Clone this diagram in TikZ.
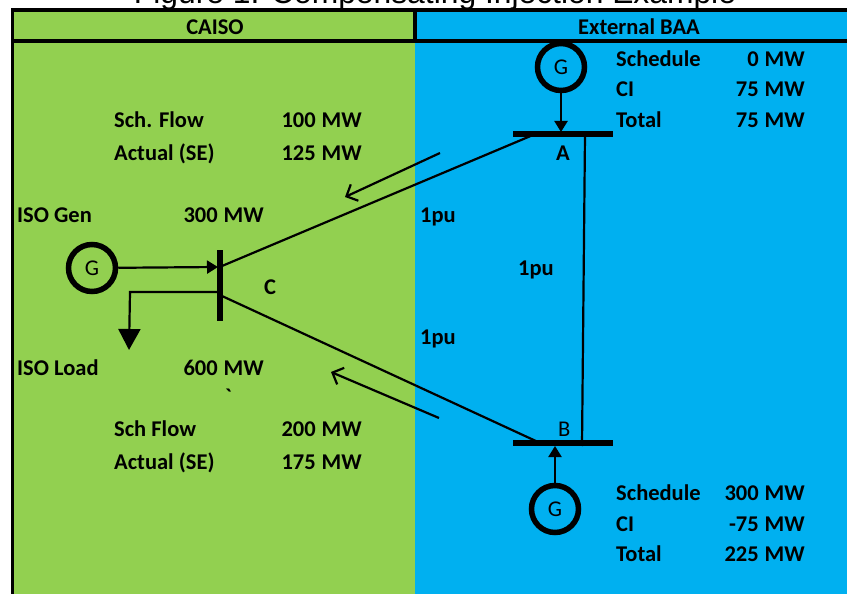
\documentclass[tikz,border=0pt]{standalone}
\usepackage{fontspec}
\setmainfont{Carlito}
\newfontfamily\titlefont{Liberation Sans}
\newfontfamily\rawfont{Carlito}
\usetikzlibrary{arrows.meta}
\definecolor{caisogreen}{HTML}{92D050}
\definecolor{baablue}{HTML}{00B0F0}
\tikzset{
  x=1pt,y=-1pt,
  lab/.style={inner sep=0pt,anchor=base west,yshift=-0.8pt,font=\fontsize{22.5}{22.5}\selectfont\bfseries},
  val/.style={inner sep=0pt,anchor=base east,yshift=-0.8pt,font=\fontsize{22.5}{22.5}\selectfont\bfseries},
  head/.style={inner sep=0pt,anchor=base,yshift=-0.8pt,font=\fontsize{22.5}{22.5}\selectfont\bfseries},
  plain/.style={inner sep=0pt,anchor=base west,yshift=-0.8pt,font=\fontsize{22.5}{22.5}\selectfont},
  gen/.style={circle,draw=black,line width=5.5pt,minimum size=47pt,inner sep=0pt,font=\fontsize{22.5}{22.5}\selectfont},
  hbus/.style={fill=black,minimum width=100pt,minimum height=5.5pt,inner sep=0pt},
  vbus/.style={fill=black,minimum width=5.5pt,minimum height=71pt,inner sep=0pt},
  wire/.style={line width=2.2pt,draw=black},
  feed/.style={line width=2.2pt,draw=black,-{Triangle[length=11pt,width=13pt]}},
  loadfeed/.style={line width=2.2pt,draw=black,-{Triangle[length=21pt,width=22pt]}},
  flow/.style={line width=2.2pt,draw=black,-{Straight Barb[length=9pt,width=18pt,line width=2.2pt]}},
  frame/.style={line width=3.5pt,draw=black}
}
\newcommand{\mw}[1]{#1\hspace{6pt}MW}
\begin{document}
\begin{tikzpicture}
\useasboundingbox (0,0) rectangle (847,594);
\clip (0,0) rectangle (847,594);
\fill[caisogreen] (13,10) rectangle (415,594);
\fill[baablue] (415,10) rectangle (847,594);
\node[inner sep=0pt,anchor=base,font=\titlefont\fontsize{31.8}{31.8}\selectfont] (title) at (435,3.5) {Figure 1: Compensating Injection Example};
\coordinate (fTL) at (12.5,10);
\coordinate (fTR) at (847,10);
\coordinate (fBL) at (12.5,594);
\coordinate (hL) at (12.5,41);
\coordinate (hR) at (847,41);
\coordinate (dT) at (415,10);
\coordinate (dB) at (415,41);
\draw[frame] (fBL) -- (fTL) -- (fTR);
\draw[frame] (hL) -- (hR);
\draw[frame] (dT) -- (dB);
\node[head] (caiso) at (215,34) {CAISO};
\node[head] (ext) at (639,34) {External BAA};
% buses
\node[hbus] (busA) at (563,134) {};
\node[hbus] (busB) at (563,443) {};
\node[vbus] (busC) at (220,285.5) {};
\node[gen] (genA) at (561,67) {G};
\node[gen] (genB) at (555,509) {G};
\node[gen] (genC) at (92,268) {G};
% connector ends
\coordinate (cA) at (222,266);
\coordinate (aC) at (533,135);
\coordinate (cB) at (222,296);
\coordinate (bC) at (538,442);
\coordinate (aB) at (585,135);
\coordinate (bA) at (582,446);
\coordinate (fa1) at (440,153);
\coordinate (fa2) at (345,197);
\coordinate (fb1) at (439,418);
\coordinate (fb2) at (331,372);
\coordinate (lc) at (218,292);
\coordinate (lm) at (130,292);
\coordinate (le) at (129,350);
\coordinate (ga) at (561,132);
\coordinate (gb) at (555,446);
\coordinate (gc) at (218,267);
\draw[wire] (cA) -- (aC);
\draw[wire] (cB) -- (bC);
\draw[wire] (aB) -- (bA);
\draw[flow] (fa1) -- (fa2);
\draw[flow] (fb1) -- (fb2);
\draw[feed] (genA) -- (ga);
\draw[feed] (genB) -- (gb);
\draw[feed] (genC) -- (gc);
\draw[loadfeed] (lc) -- (lm) -- (le);
% labels left
\node[lab] (l1) at (114,127) {Sch. Flow};
\node[val] (v1) at (362,127) {\mw{100}};
\node[lab] (l2) at (114,160) {Actual (SE)};
\node[val] (v2) at (362,160) {\mw{125}};
\node[lab] (l3) at (17,222) {ISO Gen};
\node[val] (v3) at (264,222) {\mw{300}};
\node[lab] (l4) at (17,375) {ISO Load};
\node[val] (v4) at (264,375) {\mw{600}};
\node[lab] (tick) at (225,404) {{\rawfont\bfseries `}};
\node[lab] (l5) at (114,436) {Sch Flow};
\node[val] (v5) at (362,436) {\mw{200}};
\node[lab] (l6) at (114,469) {Actual (SE)};
\node[val] (v6) at (362,469) {\mw{175}};
\node[lab] (nC) at (264,294) {C};
% centre labels
\node[lab] (p1) at (420,222) {1pu};
\node[lab] (p2) at (518,275) {1pu};
\node[lab] (p3) at (420,344) {1pu};
\node[lab] (nA) at (556,160) {A};
\node[plain] (nB) at (558,436) {B};
% right top
\node[lab] (r1) at (616,66) {Schedule};
\node[val] (s1) at (805,66) {\mw{0}};
\node[lab] (r2) at (616,96) {CI};
\node[val] (s2) at (805,96) {\mw{75}};
\node[lab] (r3) at (616,127) {Total};
\node[val] (s3) at (805,127) {\mw{75}};
% right bottom
\node[lab] (r4) at (616,500) {Schedule};
\node[val] (s4) at (805,500) {\mw{300}};
\node[lab] (r5) at (616,531) {CI};
\node[val] (s5) at (805,531) {\mw{-75}};
\node[lab] (r6) at (616,561) {Total};
\node[val] (s6) at (805,561) {\mw{225}};
\end{tikzpicture}
\end{document}
